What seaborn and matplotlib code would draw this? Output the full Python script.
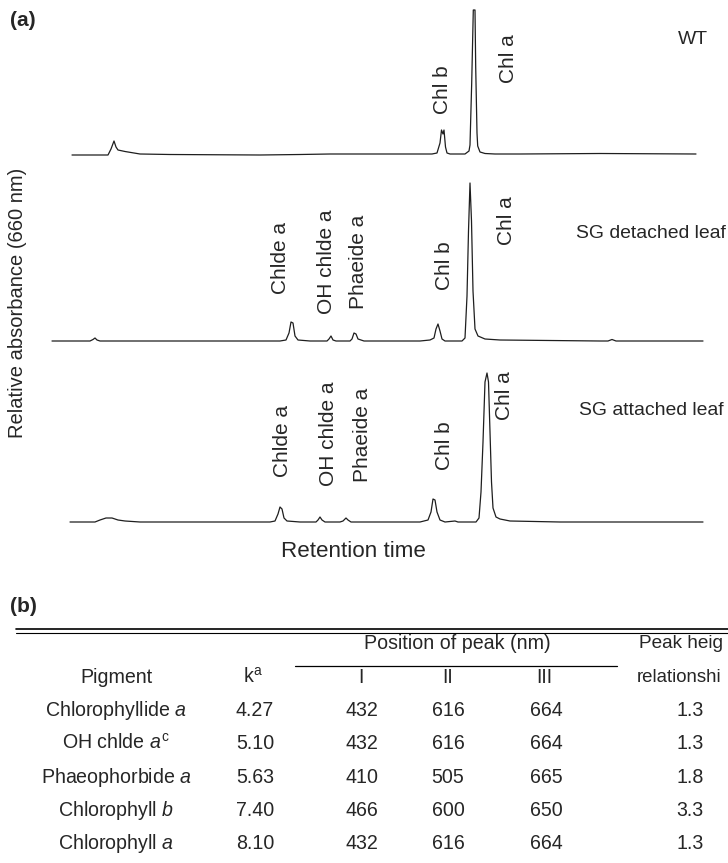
import numpy as np
import pandas as pd
import seaborn as sns
import matplotlib
matplotlib.use("Agg")
import matplotlib.pyplot as plt
from matplotlib import font_manager as fm

# ---------------- data ----------------
# retention time (arbitrary min) and relative absorbance (660 nm) per trace
wt_t = [1.60, 3.40, 3.55, 3.70, 3.80, 3.90, 4.25, 5.00, 6.50, 11.0, 13.0, 14.5, 17.0,
        19.0, 19.6, 19.85, 20.0, 20.075, 20.15, 20.2, 20.275, 20.35, 20.5, 21.25,
        21.45, 21.5, 21.585, 21.665, 21.75, 21.785, 21.85, 21.885, 22.0, 22.25,
        22.75, 24.0, 28.0, 32.8]
wt_abs = [0, 0, 0.06, 0.14, 0.08, 0.05, 0.035, 0.01, 0.005, 0, 0.005, 0.01, 0.01,
          0.01, 0.01, 0.02, 0.12, 0.25, 0.21, 0.25, 0.08, 0.02, 0.01, 0.01,
          0.04, 0.10, 0.72, 1.45, 1.45, 0.88, 0.22, 0.09, 0.03, 0.015,
          0.01, 0.01, 0.015, 0.01]

det_t = [0.6, 2.5, 2.65, 2.75, 2.85, 3.0, 12.0, 12.3, 12.45, 12.55, 12.65, 12.75,
         12.9, 13.5, 14.35, 14.45, 14.55, 14.65, 14.8, 15.5, 15.6, 15.7, 15.8, 15.9,
         16.05, 16.2, 19.0, 19.5, 19.7, 19.8, 19.9, 20.0, 20.1, 20.25, 21.1, 21.25,
         21.35, 21.425, 21.5, 21.575, 21.65, 21.75, 21.9, 22.25, 23.0, 28.0, 28.4,
         28.6, 28.8, 33.15]
det_abs = [0, 0, 0.015, 0.03, 0.01, 0, 0, 0.01, 0.08, 0.19, 0.18, 0.05,
           0.01, 0, 0, 0.02, 0.05, 0.01, 0, 0, 0.02, 0.08, 0.07, 0.02,
           0.01, 0, 0, 0.01, 0.03, 0.12, 0.17, 0.10, 0.02, 0, 0, 0.03,
           0.45, 1.10, 1.58, 1.20, 0.50, 0.12, 0.05, 0.02, 0.01, 0, 0,
           0.015, 0, 0]

att_t = [1.5, 2.75, 3.0, 3.3, 3.6, 3.9, 4.25, 5.0, 11.5, 11.75, 11.9, 12.0, 12.1,
         12.2, 12.35, 13.0, 13.8, 13.9, 14.0, 14.1, 14.25, 15.0, 15.15, 15.3, 15.4,
         15.55, 19.0, 19.4, 19.55, 19.65, 19.75, 19.85, 20.0, 20.25, 20.75, 20.9,
         21.8, 21.95, 22.05, 22.15, 22.25, 22.35, 22.425, 22.5, 22.575, 22.65, 22.8,
         23.0, 23.5, 26.0, 28.0, 33.15]
att_abs = [0, 0, 0.02, 0.04, 0.04, 0.02, 0.01, 0, 0, 0.01, 0.08, 0.15, 0.13,
           0.04, 0.01, 0, 0, 0.02, 0.05, 0.02, 0, 0, 0.01, 0.04, 0.02,
           0, 0, 0.02, 0.10, 0.23, 0.22, 0.10, 0.02, 0, 0.01, 0,
           0, 0.04, 0.30, 0.80, 1.40, 1.49, 1.40, 0.90, 0.40, 0.14, 0.05,
           0.03, 0.01, 0, 0, 0]

samples = ["WT", "SG detached leaf", "SG attached leaf"]
offsets = [3.75, 1.89, 0.08]

wt_labels = ["Chl b", "Chl a"]
sg_labels = ["Chlde a", "OH chlde a", "Phaeide a", "Chl b", "Chl a"]

# table (b)
pigments = ["Chlorophyllide $a$", "OH chlde $a^{\\rm c}$", "Phaeophorbide $a$",
            "Chlorophyll $b$", "Chlorophyll $a$"]
k_values = ["4.27", "5.10", "5.63", "7.40", "8.10"]
peak_I = [432, 432, 410, 466, 432]
peak_II = [616, 616, 505, 600, 616]
peak_III = [664, 664, 665, 650, 664]
peak_ratio = ["1.3", "1.3", "1.8", "3.3", "1.3"]
# header of the last column, as far as it is visible in the original figure
last_col_head = ["Peak heig", "relationshi"]

# ---------------- style ----------------
sns.set_theme(style="white")
names = {f.name for f in fm.fontManager.ttflist}
REG = "Liberation Sans"
if "Liberation Sans Narrow" in names:
    NAR = "Liberation Sans Narrow"
    ns = 1.0
else:
    NAR = "Liberation Sans"
    ns = 0.87
plt.rcParams["font.family"] = [REG, "DejaVu Sans"]
plt.rcParams["mathtext.fontset"] = "custom"
plt.rcParams["mathtext.rm"] = NAR
plt.rcParams["mathtext.it"] = NAR + ":italic"

W, H = 728, 863
fig = plt.figure(figsize=(W / 100, H / 100), dpi=100)
fig.patch.set_facecolor("white")

# chromatogram axes: x px 40..720, y px 0..530
ax = fig.add_axes([40 / W, (H - 530) / H, 680 / W, 530 / H])
frames = []
for name, off, t, a in zip(samples, offsets, [wt_t, det_t, att_t], [wt_abs, det_abs, att_abs]):
    frames.append(pd.DataFrame({"t": t, "abs": np.array(a) + off, "sample": name}))
df = pd.concat(frames, ignore_index=True)
sns.lineplot(data=df, x="t", y="abs", hue="sample", palette=["#1e1e1e"] * 3,
             estimator=None, sort=False, legend=False, lw=0.9, ax=ax)
ax.set_xlim(0, 34)
ax.set_ylim(0, 5.3)
ax.axis("off")

# overlay in pixel coordinates for text
ov = fig.add_axes([0, 0, 1, 1], zorder=5)
ov.set_xlim(0, W)
ov.set_ylim(H, 0)
ov.axis("off")
ov.patch.set_alpha(0)

lab_fs = 15
ov.text(10, 21, "(a)", fontsize=15, fontweight="bold", ha="left", va="center")
ov.text(10, 606, "(b)", fontsize=15, fontweight="bold", ha="left", va="center")

# WT labels
for s, (x, y) in zip(wt_labels, [(443, 90), (509, 59)]):
    ov.text(x, y, s, rotation=90, fontsize=lab_fs, ha="center", va="center")
# detached labels
for s, (x, y) in zip(sg_labels, [(280, 258), (327, 262), (359, 262), (445, 266), (506, 221)]):
    ov.text(x, y, s, rotation=90, fontsize=lab_fs, ha="center", va="center")
# attached labels
for s, (x, y) in zip(sg_labels, [(282, 441), (329, 434), (363, 435), (444, 446), (504, 396)]):
    ov.text(x, y, s, rotation=90, fontsize=lab_fs, ha="center", va="center")

for s, (x, y) in zip(samples, [(678, 39), (576, 233), (579, 410)]):
    ov.text(x, y, s, fontsize=16 * ns, family=NAR, ha="left", va="center")

ov.text(353, 551, "Retention time", fontsize=18.5 * ns, family=NAR, ha="center", va="center")
ov.text(18, 303, "Relative absorbance (660 nm)", rotation=90, fontsize=14.5,
        ha="center", va="center")

# table
tfs = 16.2 * ns
ov.plot([16, 728], [629, 629], color="black", lw=1.2)
ov.plot([16, 728], [632.5, 632.5], color="black", lw=0.8)
ov.plot([295, 617], [666, 666], color="black", lw=0.9)
ov.text(457, 643, "Position of peak (nm)", fontsize=tfs, family=NAR, ha="center", va="center")
ov.text(639, 643, last_col_head[0], fontsize=tfs * 0.97, family=NAR, ha="left", va="center")
ov.text(637, 677, last_col_head[1], fontsize=tfs * 0.95, family=NAR, ha="left", va="center")
ov.text(116, 677, "Pigment", fontsize=tfs, family=NAR, ha="center", va="center")
ov.text(253, 677, "k$^{\\rm a}$", fontsize=tfs, family=NAR, ha="center", va="center")
for s, x in zip(["I", "II", "III"], [361, 448, 544]):
    ov.text(x, 677, s, fontsize=tfs, family=NAR, ha="center", va="center")

row_y = [710, 743, 777, 810, 843]
for i, y in enumerate(row_y):
    ov.text(116, y, pigments[i], fontsize=tfs, family=NAR, ha="center", va="center")
    ov.text(255, y, k_values[i], fontsize=tfs, family=NAR, ha="center", va="center")
    ov.text(362, y, str(peak_I[i]), fontsize=tfs, family=NAR, ha="center", va="center")
    ov.text(448, y, str(peak_II[i]), fontsize=tfs, family=NAR, ha="center", va="center")
    ov.text(546, y, str(peak_III[i]), fontsize=tfs, family=NAR, ha="center", va="center")
    ov.text(690, y, peak_ratio[i], fontsize=tfs, family=NAR, ha="center", va="center")

fig.savefig("out.png", dpi=100, facecolor="white")
